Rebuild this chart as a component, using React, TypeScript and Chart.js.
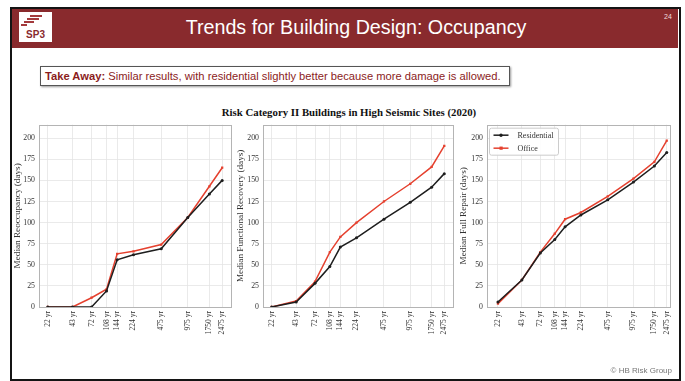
import React, { useEffect, useRef } from 'react';
import { Chart, registerables } from 'chart.js';

Chart.register(...registerables);

// ---------------- data ----------------
const returnPeriods = [22, 43, 72, 108, 144, 224, 475, 975, 1750, 2475];
const xTickLabels = ['22 yr', '43 yr', '72 yr', '108 yr', '144 yr', '224 yr', '475 yr', '975 yr', '1750 yr', '2475 yr'];
const yTickValues = [0, 25, 50, 75, 100, 125, 150, 175, 200];
const seriesNames = ['Residential', 'Office'];

const reoccupancyResidential = [0, 0, 0, 19, 56, 62, 69, 106, 134, 150];
const reoccupancyOffice = [0, 0, 11, 21, 63, 66, 74, 106, 143, 165];
const functionalResidential = [0, 6, 28, 48, 71, 82, 104, 124, 142, 158];
const functionalOffice = [0, 7, 30, 65, 83, 100, 125, 146, 166, 191];
const repairResidential = [6, 32, 64, 80, 95, 109, 127, 148, 167, 183];
const repairOffice = [4, 32, 65, 87, 104, 112, 131, 152, 172, 197];

const yTitles = ['Median Reoccupancy (days)', 'Median Functional Recovery (days)', 'Median Full Repair (days)'];

// ---------------- style ----------------
const BLACK = '#1e1e1e';
const RED = '#e5412f';
const GRID = '#e4e4e4';
const FRAME = '#b4b4b4';
const TEXT = '#333333';
const SERIF = "'Liberation Serif', 'DejaVu Serif', serif";
const SANS = "'Liberation Sans', Arial, sans-serif";

Chart.defaults.font.family = SERIF;

const PAD = 8;
const X_AXIS_H = 40;

type Geom = { axisLeft: number; plotLeft: number; plotRight: number; plotTop: number; plotBottom: number; xMin: number; xMax: number };

const geoms: Geom[] = [
  { axisLeft: 10, plotLeft: 39, plotRight: 231, plotTop: 124, plotBottom: 307, xMin: 17.35, xMax: 3141 },
  { axisLeft: 233, plotLeft: 263, plotRight: 453, plotTop: 124, plotBottom: 307, xMin: 17.35, xMax: 3141 },
  { axisLeft: 456, plotLeft: 487, plotRight: 672, plotTop: 124, plotBottom: 307, xMin: 16.2, xMax: 2692 },
];

const framePlugin = {
  id: 'frame',
  afterDraw(chart: any) {
    const { ctx, chartArea: a } = chart;
    ctx.save();
    ctx.strokeStyle = FRAME;
    ctx.lineWidth = 1;
    ctx.strokeRect(Math.round(a.left) + 0.5, Math.round(a.top) + 0.5, Math.round(a.right - a.left), Math.round(a.bottom - a.top));
    ctx.restore();
  },
};

const legendPlugin = {
  id: 'customLegend',
  afterDraw(chart: any) {
    const { ctx, chartArea: a } = chart;
    const x = a.left + 2.5;
    const y = a.top + 3.5;
    const w = 69;
    const h = 27;
    ctx.save();
    ctx.fillStyle = 'rgba(255,255,255,0.9)';
    ctx.strokeStyle = '#cccccc';
    ctx.lineWidth = 1;
    ctx.beginPath();
    if ((ctx as any).roundRect) (ctx as any).roundRect(x, y, w, h, 2);
    else ctx.rect(x, y, w, h);
    ctx.fill();
    ctx.stroke();
    chart.data.datasets.forEach((ds: any, i: number) => {
      const ry = y + 7 + i * 13;
      ctx.strokeStyle = ds.borderColor;
      ctx.lineWidth = 1.5;
      ctx.beginPath();
      ctx.moveTo(x + 4, ry);
      ctx.lineTo(x + 19, ry);
      ctx.stroke();
      ctx.fillStyle = ds.borderColor;
      if (ds.pointStyle === 'rect') ctx.fillRect(x + 10, ry - 1.6, 3.2, 3.2);
      else {
        ctx.beginPath();
        ctx.arc(x + 11.5, ry, 1.7, 0, Math.PI * 2);
        ctx.fill();
      }
      ctx.fillStyle = TEXT;
      ctx.font = `8px ${SERIF}`;
      ctx.textBaseline = 'middle';
      ctx.textAlign = 'left';
      ctx.fillText(ds.label, x + 28, ry + 0.5);
    });
    ctx.restore();
  },
};

function Panel({ geom, residential, office, yTitle, legend }: { geom: Geom; residential: number[]; office: number[]; yTitle: string; legend: boolean }) {
  const ref = useRef<HTMLCanvasElement>(null);
  const w = geom.plotRight - geom.axisLeft + PAD;
  const h = PAD + (geom.plotBottom - geom.plotTop) + X_AXIS_H;
  useEffect(() => {
    if (!ref.current) return;
    const chart = new Chart(ref.current, {
      type: 'line',
      data: {
        datasets: [
          {
            label: seriesNames[0],
            data: returnPeriods.map((x, i) => ({ x, y: residential[i] })),
            borderColor: BLACK,
            backgroundColor: BLACK,
            borderWidth: 1.5,
            pointRadius: 1.5,
            pointStyle: 'circle',
            pointBorderWidth: 0,
          },
          {
            label: seriesNames[1],
            data: returnPeriods.map((x, i) => ({ x, y: office[i] })),
            borderColor: RED,
            backgroundColor: RED,
            borderWidth: 1.5,
            pointRadius: 1.6,
            pointStyle: 'rect',
            pointBorderWidth: 0,
          },
        ],
      },
      options: {
        animation: false,
        responsive: false,
        maintainAspectRatio: false,
        layout: { padding: { top: PAD, right: PAD, left: 0, bottom: 0 } },
        plugins: { legend: { display: false }, tooltip: { enabled: false } },
        scales: {
          x: {
            type: 'logarithmic',
            min: geom.xMin,
            max: geom.xMax,
            afterBuildTicks: (s: any) => {
              s.ticks = returnPeriods.map((v) => ({ value: v }));
            },
            afterFit: (s: any) => {
              s.height = X_AXIS_H;
            },
            ticks: {
              callback: (_v: any, i: number) => xTickLabels[i],
              autoSkip: false,
              minRotation: 90,
              maxRotation: 90,
              padding: 4,
              color: TEXT,
              font: { size: 7.6, family: SERIF },
            },
            grid: { color: GRID, lineWidth: 0.8, drawTicks: false },
            border: { display: false },
          },
          y: {
            type: 'linear',
            min: 0,
            max: 216,
            afterBuildTicks: (s: any) => {
              s.ticks = yTickValues.map((v) => ({ value: v }));
            },
            afterFit: (s: any) => {
              s.width = geom.plotLeft - geom.axisLeft;
            },
            ticks: { padding: 4, color: TEXT, font: { size: 7.8, family: SERIF } },
            grid: { color: GRID, lineWidth: 0.8, drawTicks: false },
            border: { display: false },
            title: {
              display: true,
              text: yTitle,
              color: TEXT,
              padding: { top: 2, bottom: 0 },
              font: { size: 9.2, family: SERIF },
            },
          },
        },
      } as any,
      plugins: legend ? [framePlugin, legendPlugin] : [framePlugin],
    });
    return () => chart.destroy();
  }, []);
  return (
    <canvas
      ref={ref}
      width={w}
      height={h}
      style={{ position: 'absolute', left: geom.axisLeft, top: geom.plotTop - PAD, width: w, height: h }}
    />
  );
}

export default function App() {
  return (
    <div style={{ position: 'fixed', left: 0, top: 0, width: 685, height: 381, background: '#fff', overflow: 'hidden' }}>
      {/* slide frame */}
      <div style={{ position: 'absolute', left: 10, top: 7, width: 671, height: 374, border: '2px solid #141414', boxSizing: 'border-box' }} />
      {/* header */}
      <div style={{ position: 'absolute', left: 12, top: 9, width: 666, height: 39, background: '#892a2d' }} />
      {/* logo */}
      <div style={{ position: 'absolute', left: 19, top: 12, width: 33, height: 30, background: '#fff' }}>
        <div style={{ position: 'absolute', left: 11, top: 3, width: 12, height: 2, background: '#a33a3c' }} />
        <div style={{ position: 'absolute', left: 8, top: 6, width: 12, height: 2, background: '#a33a3c' }} />
        <div style={{ position: 'absolute', left: 5, top: 9, width: 10, height: 2, background: '#a33a3c' }} />
        <div style={{ position: 'absolute', left: 2, top: 12, width: 6, height: 2, background: '#a33a3c' }} />
        <div style={{ position: 'absolute', left: 0, top: 17, width: 33, textAlign: 'center', font: `bold 10px ${SANS}`, color: '#892a2d' }}>SP3</div>
      </div>
      <div style={{ position: 'absolute', left: 156, top: 16, width: 400, textAlign: 'center', font: `19.7px ${SANS}`, color: '#fff', whiteSpace: 'nowrap' }}>
        Trends for Building Design: Occupancy
      </div>
      <div style={{ position: 'absolute', left: 664, top: 13, font: `7px ${SANS}`, color: '#f0dcdc' }}>24</div>
      {/* take away */}
      <div
        style={{
          position: 'absolute', left: 40, top: 66, width: 470, height: 20, border: '1px solid #555', boxSizing: 'border-box',
          boxShadow: '1px 1px 2px #999', font: `11.2px ${SANS}`, color: '#8b1c1c', lineHeight: '18px', paddingLeft: 4, whiteSpace: 'nowrap',
        }}
      >
        <b>Take Away:</b> Similar results, with residential slightly better because more damage is allowed.
      </div>
      {/* chart title */}
      <div style={{ position: 'absolute', left: 149, top: 106, width: 400, textAlign: 'center', font: `bold 10.8px ${SERIF}`, color: '#111', whiteSpace: 'nowrap' }}>
        Risk Category II Buildings in High Seismic Sites (2020)
      </div>
      <Panel geom={geoms[0]} residential={reoccupancyResidential} office={reoccupancyOffice} yTitle={yTitles[0]} legend={false} />
      <Panel geom={geoms[1]} residential={functionalResidential} office={functionalOffice} yTitle={yTitles[1]} legend={false} />
      <Panel geom={geoms[2]} residential={repairResidential} office={repairOffice} yTitle={yTitles[2]} legend={true} />
      <div style={{ position: 'absolute', left: 560, top: 366, width: 112, textAlign: 'right', font: `8px ${SANS}`, color: '#777' }}>© HB Risk Group</div>
    </div>
  );
}
